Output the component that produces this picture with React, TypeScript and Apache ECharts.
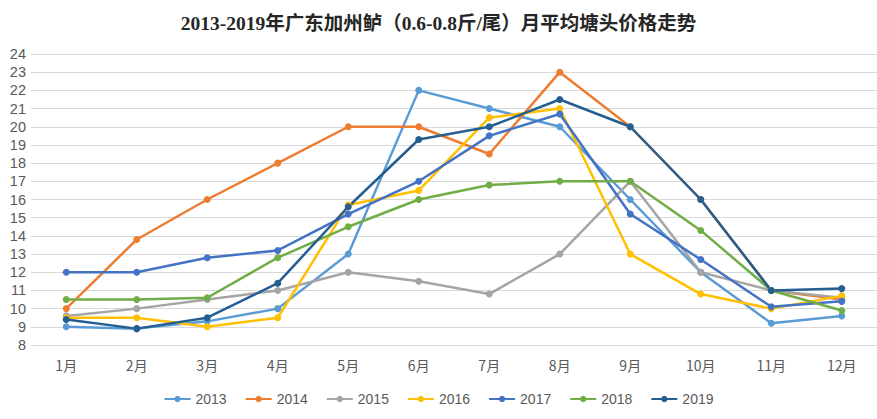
import React, { useEffect, useRef } from "react";
import * as echarts from "echarts";

const months = ["1月", "2月", "3月", "4月", "5月", "6月", "7月", "8月", "9月", "10月", "11月", "12月"];
const years = ["2013", "2014", "2015", "2016", "2017", "2018", "2019"];
const colors = ["#5B9BD5", "#ED7D31", "#A5A5A5", "#FFC000", "#4472C4", "#70AD47", "#255E91"];

const s2013 = [9.0, 8.9, 9.3, 10.0, 13.0, 22.0, 21.0, 20.0, 16.0, 12.0, 9.2, 9.6];
const s2014 = [10.0, 13.8, 16.0, 18.0, 20.0, 20.0, 18.5, 23.0, 20.0, 16.0, 11.0, 10.5];
const s2015 = [9.6, 10.0, 10.5, 11.0, 12.0, 11.5, 10.8, 13.0, 17.0, 12.0, 11.0, 10.6];
const s2016 = [9.5, 9.5, 9.0, 9.5, 15.7, 16.5, 20.5, 21.0, 13.0, 10.8, 10.0, 10.7];
const s2017 = [12.0, 12.0, 12.8, 13.2, 15.2, 17.0, 19.5, 20.7, 15.2, 12.7, 10.1, 10.4];
const s2018 = [10.5, 10.5, 10.6, 12.8, 14.5, 16.0, 16.8, 17.0, 17.0, 14.3, 11.0, 9.9];
const s2019 = [9.4, 8.9, 9.5, 11.4, 15.6, 19.3, 20.0, 21.5, 20.0, 16.0, 11.0, 11.1];

const allSeries = [s2013, s2014, s2015, s2016, s2017, s2018, s2019];

export default function App() {
  const ref = useRef<HTMLDivElement>(null);
  useEffect(() => {
    if (!ref.current) return;
    const chart = echarts.init(ref.current, null, { renderer: "svg" });
    chart.setOption({
      animation: false,
      backgroundColor: "#ffffff",
      color: colors,
      title: {
        text: "2013-2019年广东加州鲈（0.6-0.8斤/尾）月平均塘头价格走势",
        left: "center",
        top: 9,
        textStyle: {
          fontSize: 19.5,
          fontWeight: "bold",
          color: "#262626",
          fontFamily: "'Liberation Serif', 'Noto Sans CJK SC', serif",
        },
      },
      legend: {
        bottom: 8,
        left: "center",
        itemWidth: 26,
        itemHeight: 8,
        itemGap: 18,
        textStyle: { fontSize: 14, color: "#595959", fontFamily: "'Liberation Sans Narrow', 'Liberation Sans', sans-serif" },
        data: years,
      },
      grid: { left: 31, right: 0, top: 54, bottom: 74 },
      xAxis: {
        type: "category",
        data: months,
        boundaryGap: true,
        axisLine: { show: true, lineStyle: { color: "#D9D9D9" } },
        axisTick: { show: false },
        axisLabel: { color: "#595959", fontSize: 14, margin: 13, fontFamily: "'Noto Sans CJK SC', sans-serif" },
      },
      yAxis: {
        type: "value",
        min: 8,
        max: 24,
        interval: 1,
        axisLine: { show: false },
        axisTick: { show: false },
        axisLabel: { color: "#595959", fontSize: 14.5, margin: 5, fontFamily: "'Liberation Sans', sans-serif" },
        splitLine: { lineStyle: { color: "#D9D9D9", width: 1 } },
      },
      series: years.map((y, i) => ({
        name: y,
        type: "line",
        data: allSeries[i],
        symbol: "circle",
        symbolSize: 7,
        lineStyle: { width: 2.5, color: colors[i] },
        itemStyle: { color: colors[i] },
      })),
    });
    return () => chart.dispose();
  }, []);
  return <div ref={ref} style={{ width: 877, height: 419, position: "absolute", left: 0, top: 0 }} />;
}
